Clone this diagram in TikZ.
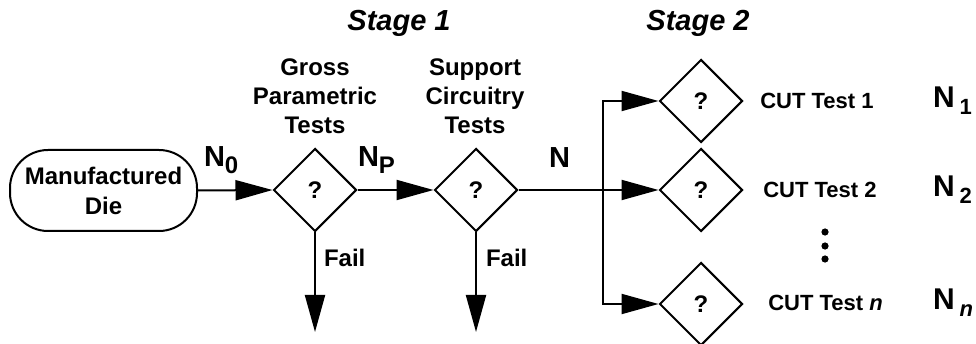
\documentclass[tikz,border=0pt]{standalone}
\usepackage{fontspec}
\setmainfont{Liberation Sans}
\usetikzlibrary{shapes.geometric,arrows.meta}
\newcommand{\fs}[1]{\fontsize{#1}{#1}\selectfont}
\begin{document}
\begin{tikzpicture}[x=1pt,y=-1pt,
  line width=2pt,
  every node/.style={font=\bfseries\fs{24}},
  decision/.style={draw,diamond,minimum width=83pt,minimum height=83pt,inner sep=0pt},
  arr/.style={-{Triangle[length=37pt,width=20pt]}},
  lbl/.style={align=center,font=\bfseries\fontsize{24}{29}\selectfont},
  cut/.style={anchor=west,font=\bfseries\fs{22}},
  count/.style={anchor=west,inner sep=0pt}
]
\useasboundingbox (0,0) rectangle (976,344);

% start box
\node[draw,rounded corners=38pt,minimum width=187pt,minimum height=81pt,
      align=center,font=\bfseries\fontsize{24}{30}\selectfont] (die) at (103.5,190.5) {Manufactured\\Die};

% stage 1 decisions
\node[decision] (d1) at (315,190) {?};
\node[decision] (d2) at (476,190) {?};
\node[lbl] (t1) at (315,96) {Gross\\Parametric\\Tests};
\node[lbl] (t2) at (475,96) {Support\\Circuitry\\Tests};

% stage 2 decisions
\node[decision] (dA) at (701,101) {?};
\node[decision] (dB) at (701,190) {?};
\node[decision] (dC) at (701,304) {?};

% stage titles
\node[font=\bfseries\itshape\fs{29}] (s1) at (399,23) {Stage 1};
\node[font=\bfseries\itshape\fs{29}] (s2) at (698,23) {Stage 2};

% flow connectors
\draw[arr] (die.east) -- (d1.west);
\draw[arr] (d1.east) -- (d2.west);
\coordinate (bus) at (603,190);
\draw[arr] (d2.east) -- (dB.west);
\draw[arr] (bus) |- (dA.west);
\draw[arr] (bus) |- (dC.west);

% fail exits
\coordinate (f1) at (315,332);
\coordinate (f2) at (476,332);
\draw[arr] (d1.south) -- (f1);
\draw[arr] (d2.south) -- (f2);
\node[anchor=west,inner sep=0pt] (fl1) at (323,258) {Fail};
\node[anchor=west,inner sep=0pt] (fl2) at (485,258) {Fail};

% flow counts
\node[count] (n0) at (203,160) {\fs{29}N\raisebox{-7pt}{\fs{24}0}};
\node[count] (np) at (357,160) {\fs{29}N\raisebox{-7pt}{\fs{24}P}};
\node[count] (n) at (548,158) {\fs{29}N};

% test labels
\node[cut] (c1) at (756,101) {CUT Test 1};
\node[cut] (c2) at (759,190) {CUT Test 2};
\node[cut] (c3) at (764,303) {CUT Test \textit{n}};

\node[count] (n1) at (932,101) {\fs{30}N\,\raisebox{-7pt}{\fs{22}1}};
\node[count] (n2) at (932,190) {\fs{30}N\,\raisebox{-7pt}{\fs{22}2}};
\node[count] (nn) at (932,303) {\fs{30}N\,\raisebox{-7pt}{\fs{22}\itshape n}};

% ellipsis dots
\foreach \yy in {232,246,259} \fill (825,\yy) circle (3.6pt);
\end{tikzpicture}
\end{document}
